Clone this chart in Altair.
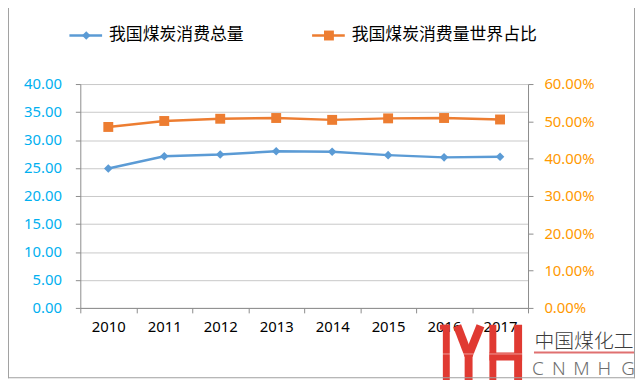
import altair as alt
import pandas as pd

# ---- data ----
years = ["2010", "2011", "2012", "2013", "2014", "2015", "2016", "2017"]
consumption = [24.9, 27.1, 27.4, 28.0, 27.9, 27.3, 26.9, 27.0]          # left axis
world_share = [0.485, 0.501, 0.507, 0.509, 0.504, 0.508, 0.509, 0.505]  # right axis
series_names = ["我国煤炭消费总量", "我国煤炭消费量世界占比"]
left_ticks = [0, 5, 10, 15, 20, 25, 30, 35, 40]
right_ticks = [0, 0.1, 0.2, 0.3, 0.4, 0.5, 0.6]
logo_cn = "中国煤化工"
logo_en = ["C", "N", "M", "H", "G"]

BLUE = "#5B9BD5"
ORANGE = "#ED7D31"
AXIS = "#8C8C8C"
GRID = "#C8C8C8"
RED = "#E03A32"
FONT = "Noto Sans"

df = pd.DataFrame({"year": years, "consumption": consumption, "share": world_share})
one = pd.DataFrame({"k": [0]})

W, H = 452, 226

x_enc = alt.X(
    "year:O",
    scale=alt.Scale(type="band", paddingInner=0, paddingOuter=0),
    axis=alt.Axis(
        title=None, labelAngle=0, tickBand="extent", grid=False,
        domainColor=AXIS, tickColor=AXIS, tickSize=5,
        labelColor="#000000", labelFont=FONT, labelFontSize=15,
        labelPadding=7,
    ),
)

y_left = alt.Y(
    "consumption:Q",
    scale=alt.Scale(domain=[0, 40], nice=False, zero=True),
    axis=alt.Axis(
        title=None, orient="left", values=left_ticks, format=".2f",
        grid=True, gridColor=GRID, domainColor=AXIS, tickColor=AXIS, tickSize=5,
        labelColor="#00B0F0", labelFont=FONT, labelFontSize=15,
        labelPadding=14,
    ),
)

y_right = alt.Y(
    "share:Q",
    scale=alt.Scale(domain=[0, 0.6], nice=False, zero=True),
    axis=alt.Axis(
        title=None, orient="right", values=right_ticks, format=".2%",
        grid=False, domainColor=AXIS, tickColor=AXIS, tickSize=5,
        labelColor="#FF9900", labelFont=FONT, labelFontSize=15,
        labelPadding=11,
    ),
)

base = alt.Chart(df)
blue = alt.layer(
    base.mark_line(color=BLUE, strokeWidth=2.5).encode(x=x_enc, y=y_left),
    base.mark_point(shape="diamond", filled=True, size=75, color=BLUE, opacity=1).encode(x=x_enc, y=y_left),
)
orange = alt.layer(
    base.mark_line(color=ORANGE, strokeWidth=2.5).encode(x=x_enc, y=y_right),
    base.mark_point(shape="square", filled=True, size=100, color=ORANGE, opacity=1).encode(x=x_enc, y=y_right),
)

deco = alt.Chart(one)

# legend (hand drawn, coordinates relative to plot origin)
legend = [
    deco.mark_rule(color=BLUE, strokeWidth=2.5).encode(x=alt.value(-11), x2=alt.value(22), y=alt.value(-49)),
    deco.mark_point(shape="diamond", filled=True, size=75, color=BLUE, opacity=1).encode(x=alt.value(6), y=alt.value(-49)),
    deco.mark_text(text=series_names[0], align="left", baseline="middle", font="Noto Sans CJK SC",
                   fontSize=17, color="#000000").encode(x=alt.value(29), y=alt.value(-49)),
    deco.mark_rule(color=ORANGE, strokeWidth=2.5).encode(x=alt.value(234), x2=alt.value(267), y=alt.value(-49)),
    deco.mark_point(shape="square", filled=True, size=100, color=ORANGE, opacity=1).encode(x=alt.value(251), y=alt.value(-49)),
    deco.mark_text(text=series_names[1], align="left", baseline="middle", font="Noto Sans CJK SC",
                   fontSize=17, color="#000000").encode(x=alt.value(274), y=alt.value(-49)),
]

# watermark logo
def rect(x1, x2, y1, y2, color=RED):
    return deco.mark_rect(color=color, opacity=1).encode(
        x=alt.value(x1), x2=alt.value(x2), y=alt.value(y1), y2=alt.value(y2))

logo = [
    rect(366, 373, 243, 301),
    rect(363, 373, 243, 248),
    deco.mark_rule(color=RED, strokeWidth=8.4).encode(x=alt.value(380.5), x2=alt.value(392), y=alt.value(244), y2=alt.value(274)),
    deco.mark_rule(color=RED, strokeWidth=8.4).encode(x=alt.value(404), x2=alt.value(392), y=alt.value(244), y2=alt.value(274)),
    rect(388, 396, 269, 301),
    rect(413, 420, 243, 301),
    rect(438, 446, 243, 301),
    rect(413, 446, 271, 279),
    deco.mark_rule(color="#FFFFFF", strokeWidth=1, opacity=0.5).encode(x=alt.value(363), x2=alt.value(447), y=alt.value(272.5)),
    deco.mark_text(text=logo_cn, align="center", baseline="middle", font="Noto Sans CJK SC",
                   fontSize=20, fontWeight=300, color="#3C3C3C").encode(x=alt.value(508.5), y=alt.value(260)),
    deco.mark_rule(color="#E07070", strokeWidth=2).encode(x=alt.value(458), x2=alt.value(559), y=alt.value(271)),
]
for ch, xp in zip(logo_en, [462, 483, 506, 529, 553]):
    logo.append(deco.mark_text(text=ch, align="center", baseline="middle", font="Noto Sans",
                               fontSize=19, fontWeight=300, color="#6E6E6E").encode(x=alt.value(xp), y=alt.value(288)))

border = [
    deco.mark_rule(color="#A0A0A0", strokeWidth=1).encode(x=alt.value(-72.5), y=alt.value(-83), y2=alt.value(297)),
    deco.mark_rule(color="#A0A0A0", strokeWidth=1).encode(x=alt.value(559.5), y=alt.value(-83), y2=alt.value(297)),
    deco.mark_rule(color="#A0A0A0", strokeWidth=1).encode(x=alt.value(-73), x2=alt.value(560), y=alt.value(296.5)),
]

chart = alt.layer(blue, orange, *legend, *logo, *border).resolve_scale(y="independent").properties(
    width=W, height=H,
    autosize=alt.AutoSizeParams(type="none"),
    padding={"left": 73, "top": 75, "right": 109, "bottom": 71},
    background="white",
).configure_view(stroke=None)

chart.save("out.html", embed_options={"renderer": "svg", "actions": False})
